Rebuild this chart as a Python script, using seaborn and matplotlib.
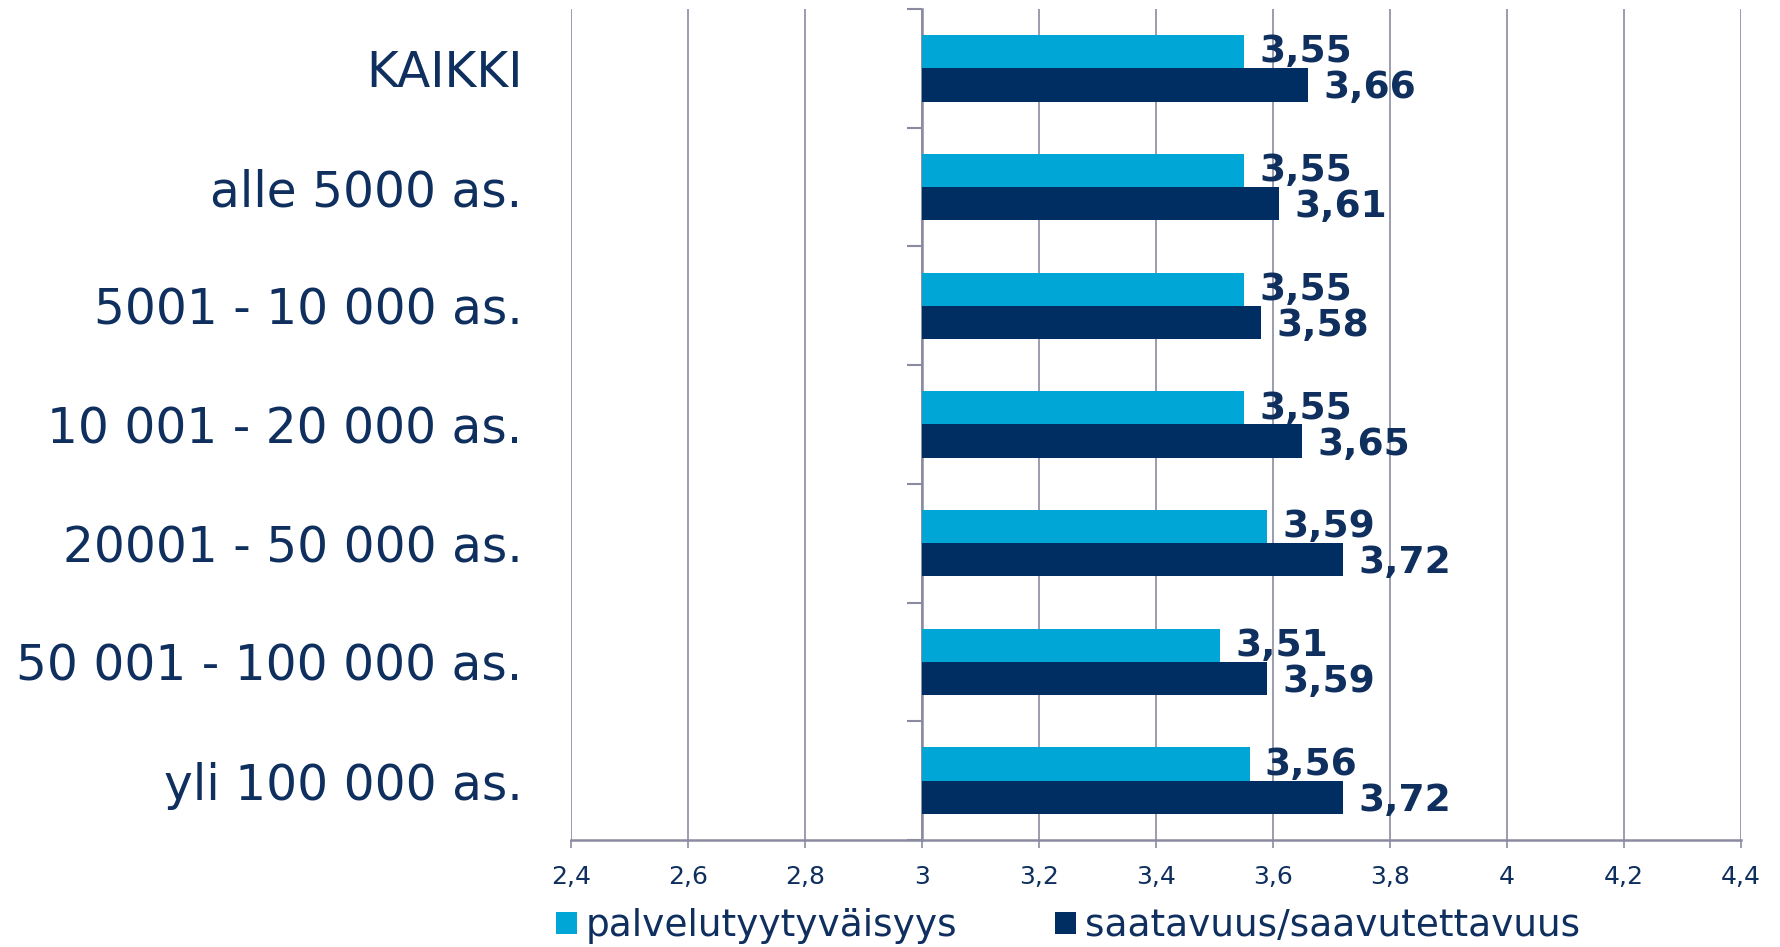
import numpy as np
import pandas as pd
import seaborn as sns
import matplotlib
matplotlib.use("Agg")
import matplotlib.pyplot as plt
from matplotlib.ticker import FuncFormatter

# data
categories = [
    "KAIKKI",
    "alle 5000 as.",
    "5001 - 10 000 as.",
    "10 001 - 20 000 as.",
    "20001 - 50 000 as.",
    "50 001 - 100 000 as.",
    "yli 100 000 as.",
]
series_names = ["palvelutyytyväisyys", "saatavuus/saavutettavuus"]
palvelu = [3.55, 3.55, 3.55, 3.55, 3.59, 3.51, 3.56]
saatavuus = [3.66, 3.61, 3.58, 3.65, 3.72, 3.59, 3.72]
x_ticks = [2.4, 2.6, 2.8, 3.0, 3.2, 3.4, 3.6, 3.8, 4.0, 4.2, 4.4]
BASE = 3.0

LIGHT = "#00A6D6"
NAVY = "#002D62"
TEXT = "#0F2F5E"
GRID = "#8A8BA0"


def comma_formatter(x, pos):
    return '{:g}'.format(round(x, 2)).replace('.', ',')


def main():
    sns.set_theme(style="white")
    plt.rcParams['font.family'] = ['DejaVu Sans']

    df = pd.DataFrame({
        'ryhma': categories * 2,
        'arvo': palvelu + saatavuus,
        'sarja': [series_names[0]] * len(categories) + [series_names[1]] * len(categories),
    })

    fig = plt.figure(figsize=(17.8, 9.47), dpi=100)
    ax = fig.add_axes([0.3208, 0.113, 0.978 - 0.3208, 0.9905 - 0.113])

    sns.barplot(data=df, y='ryhma', x='arvo', hue='sarja', orient='h',
                palette=[LIGHT, NAVY], width=0.56, ax=ax, errorbar=None,
                saturation=1, linewidth=0)

    # bars start from the crossing point at 3, not from 0
    for container in ax.containers:
        for p in container:
            w = p.get_width()
            p.set_x(BASE)
            p.set_width(w - BASE)

    # value labels, the lower series sits a little below its bar centre
    for container, vals, dy in zip(ax.containers, [palvelu, saatavuus], [-0.5, -2.5]):
        for p, v in zip(container, vals):
            ax.annotate(comma_formatter(v, None),
                        xy=(p.get_x() + p.get_width(), p.get_y() + p.get_height() / 2),
                        xytext=(11, dy), textcoords='offset points',
                        ha='left', va='center', fontsize=27, fontweight='bold',
                        color=TEXT)

    ax.set_xlim(2.4, 4.4)
    ax.set_ylim(len(categories) - 0.5, -0.5)
    ax.set_xticks(x_ticks)
    ax.xaxis.set_major_formatter(FuncFormatter(comma_formatter))
    ax.set_xlabel('')
    ax.set_ylabel('')

    ax.grid(axis='x', color=GRID, linewidth=1.2)
    ax.grid(axis='y', visible=False)
    ax.set_axisbelow(True)

    for side in ['top', 'right', 'left']:
        ax.spines[side].set_visible(False)
    ax.spines['bottom'].set_color(GRID)
    ax.spines['bottom'].set_linewidth(1.8)

    ax.tick_params(axis='y', length=0, pad=35, labelsize=35, labelcolor=TEXT)
    ax.tick_params(axis='x', bottom=True, length=6, width=1.2, color=GRID,
                   pad=12, labelsize=18, labelcolor=TEXT)

    # category axis crossing at x = 3 with boundary tick marks
    sec = ax.secondary_yaxis((BASE - 2.4) / (4.4 - 2.4))
    sec.set_yticks(np.arange(-0.5, len(categories) - 0.4, 1.0))
    sec.set_yticklabels([])
    sec.tick_params(axis='y', length=11, width=1.5, color=GRID)
    sec.spines['left'].set_color(GRID)
    sec.spines['left'].set_linewidth(1.8)

    leg = ax.get_legend()
    handles = leg.legend_handles
    labels = [t.get_text() for t in leg.get_texts()]
    leg.remove()
    fig.legend(handles, labels, loc='center', bbox_to_anchor=(0.6, 0.022),
               ncol=2, frameon=False, fontsize=27, handlelength=0.55,
               handleheight=0.55, handletextpad=0.25, columnspacing=2.6,
               labelcolor=TEXT, borderpad=0.1)

    plt.savefig("out.png", dpi=100)


if __name__ == "__main__":
    main()
